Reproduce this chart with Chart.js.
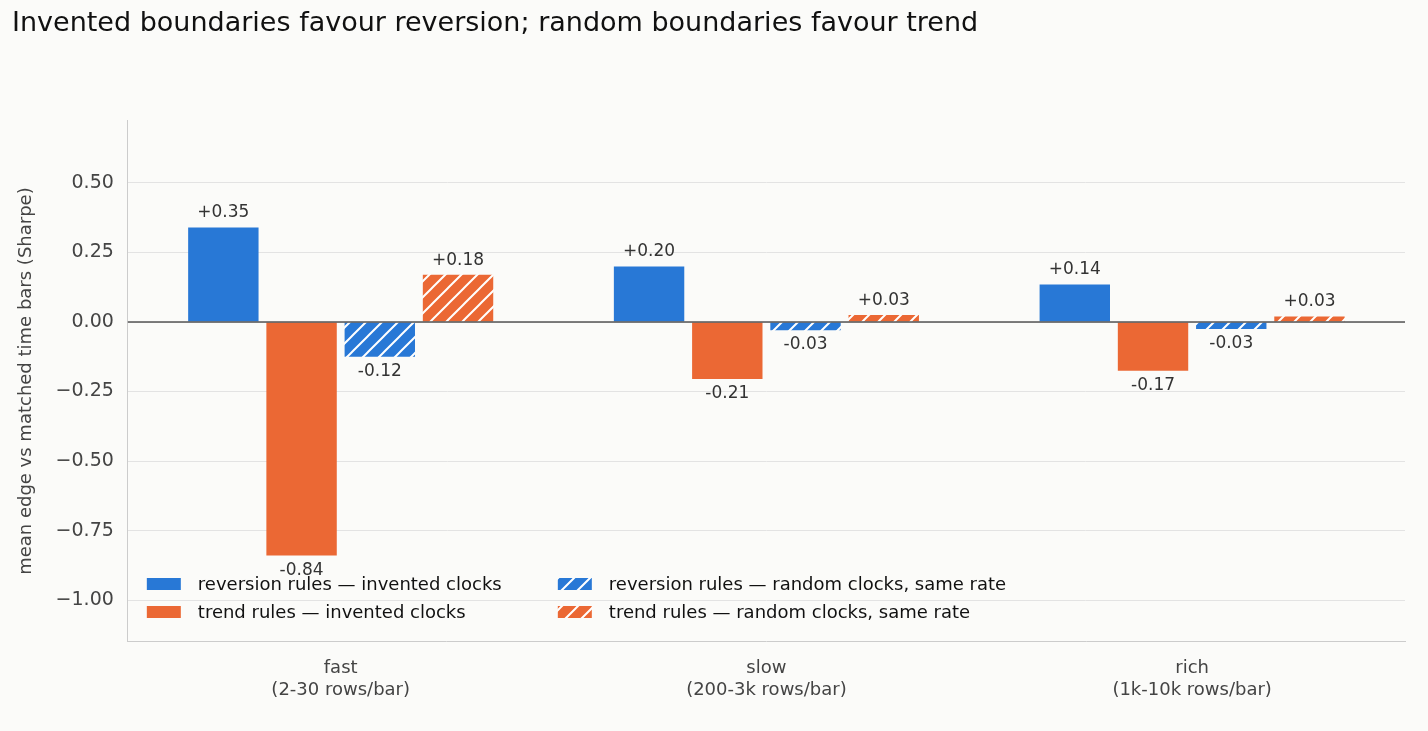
<!DOCTYPE html>
<html><head><meta charset="utf-8">
<script src="https://cdn.jsdelivr.net/npm/chart.js@4/dist/chart.umd.min.js"></script>
<style>
html,body{margin:0;padding:0;background:#fbfbf9;}
#wrap{position:relative;width:1428px;height:731px;}
</style></head>
<body><div id="wrap"><canvas id="c" width="1428" height="731"></canvas></div>
<script>
const categories = [['fast', '(2-30 rows/bar)'], ['slow', '(200-3k rows/bar)'], ['rich', '(1k-10k rows/bar)']];
const seriesNames = ['reversion rules \u2014 invented clocks', 'trend rules \u2014 invented clocks',
    'reversion rules \u2014 random clocks, same rate', 'trend rules \u2014 random clocks, same rate'];
const revInvented = [0.34, 0.20, 0.135];
const trendInvented = [-0.84, -0.205, -0.175];
const revRandom = [-0.125, -0.03, -0.025];
const trendRandom = [0.17, 0.025, 0.02];
const valueLabels = [
    ['+0.35', '+0.20', '+0.14'],
    ['-0.84', '-0.21', '-0.17'],
    ['-0.12', '-0.03', '-0.03'],
    ['+0.18', '+0.03', '+0.03'],
];
const yTicks = [0.5, 0.25, 0, -0.25, -0.5, -0.75, -1];

const BLUE = '#2878d6';
const ORANGE = '#eb6834';
const FONT = 'DejaVu Sans';

function hatch(color) {
    const c = document.createElement('canvas');
    c.width = 16; c.height = 16;
    const g = c.getContext('2d');
    g.fillStyle = color;
    g.fillRect(0, 0, 16, 16);
    g.strokeStyle = '#ffffff';
    g.lineWidth = 2;
    g.beginPath();
    g.moveTo(-4, 20); g.lineTo(20, -4);
    g.moveTo(-4, 4); g.lineTo(4, -4);
    g.moveTo(12, 20); g.lineTo(20, 12);
    g.stroke();
    return g.createPattern(c, 'repeat');
}

const fills = [BLUE, ORANGE, hatch(BLUE), hatch(ORANGE)];
const dataSets = [revInvented, trendInvented, revRandom, trendRandom];

const labelPlugin = {
    id: 'valueLabels',
    afterDatasetsDraw(chart) {
        const ctx = chart.ctx;
        ctx.save();
        ctx.font = `17px "${FONT}"`;
        ctx.fillStyle = '#333';
        ctx.textAlign = 'center';
        dataSets.forEach((vals, di) => {
            chart.getDatasetMeta(di).data.forEach((bar, i) => {
                if (vals[i] >= 0) {
                    ctx.textBaseline = 'bottom';
                    ctx.fillText(valueLabels[di][i], bar.x, bar.y - 6);
                } else {
                    ctx.textBaseline = 'top';
                    ctx.fillText(valueLabels[di][i], bar.x, bar.y + 6);
                }
            });
        });
        // zero line
        const y0 = chart.scales.y.getPixelForValue(0);
        ctx.strokeStyle = '#555';
        ctx.lineWidth = 1.5;
        ctx.beginPath();
        ctx.moveTo(chart.chartArea.left, y0);
        ctx.lineTo(chart.chartArea.right, y0);
        ctx.stroke();
        // legend
        const left = chart.chartArea.left + 19;
        const colX = [left, left + 411];
        const rowY = [584, 612];
        ctx.font = `18px "${FONT}"`;
        ctx.textAlign = 'left';
        ctx.textBaseline = 'middle';
        seriesNames.forEach((name, i) => {
            const x = colX[i < 2 ? 0 : 1];
            const y = rowY[i % 2];
            ctx.fillStyle = fills[i];
            ctx.fillRect(x, y - 6, 34, 12);
            ctx.fillStyle = '#111';
            ctx.fillText(name, x + 51, y + 1);
        });
        ctx.restore();
    }
};

new Chart(document.getElementById('c'), {
    type: 'bar',
    data: {
        labels: categories,
        datasets: dataSets.map((vals, i) => ({
            label: seriesNames[i],
            data: vals,
            backgroundColor: fills[i],
            borderWidth: 0,
            categoryPercentage: 0.735,
            barPercentage: 0.9,
        })),
    },
    options: {
        responsive: false,
        animation: false,
        layout: { padding: { left: 12, right: 23, top: 0, bottom: 22 } },
        plugins: {
            legend: { display: false },
            tooltip: { enabled: false },
            title: {
                display: true,
                text: 'Invented boundaries favour reversion; random boundaries favour trend',
                align: 'start',
                color: '#111',
                font: { family: FONT, size: 27, weight: 'normal' },
                padding: { top: 8, bottom: 80 },
            },
        },
        scales: {
            x: {
                grid: { display: false },
                border: { color: '#ccc' },
                ticks: { color: '#444', font: { family: FONT, size: 18 }, padding: 8 },
            },
            y: {
                min: -1.15,
                max: 0.725,
                afterBuildTicks(axis) { axis.ticks = yTicks.map(v => ({ value: v })); },
                grid: { color: '#e3e3e3', drawTicks: false },
                border: { color: '#ccc' },
                ticks: {
                    color: '#444', font: { family: FONT, size: 19 }, padding: 14,
                    callback: v => (v < 0 ? '\u2212' + Math.abs(v).toFixed(2) : v.toFixed(2)),
                },
                title: {
                    display: true,
                    text: 'mean edge vs matched time bars (Sharpe)',
                    color: '#444',
                    font: { family: FONT, size: 18 },
                },
            },
        },
    },
    plugins: [labelPlugin],
});
</script></body></html>
